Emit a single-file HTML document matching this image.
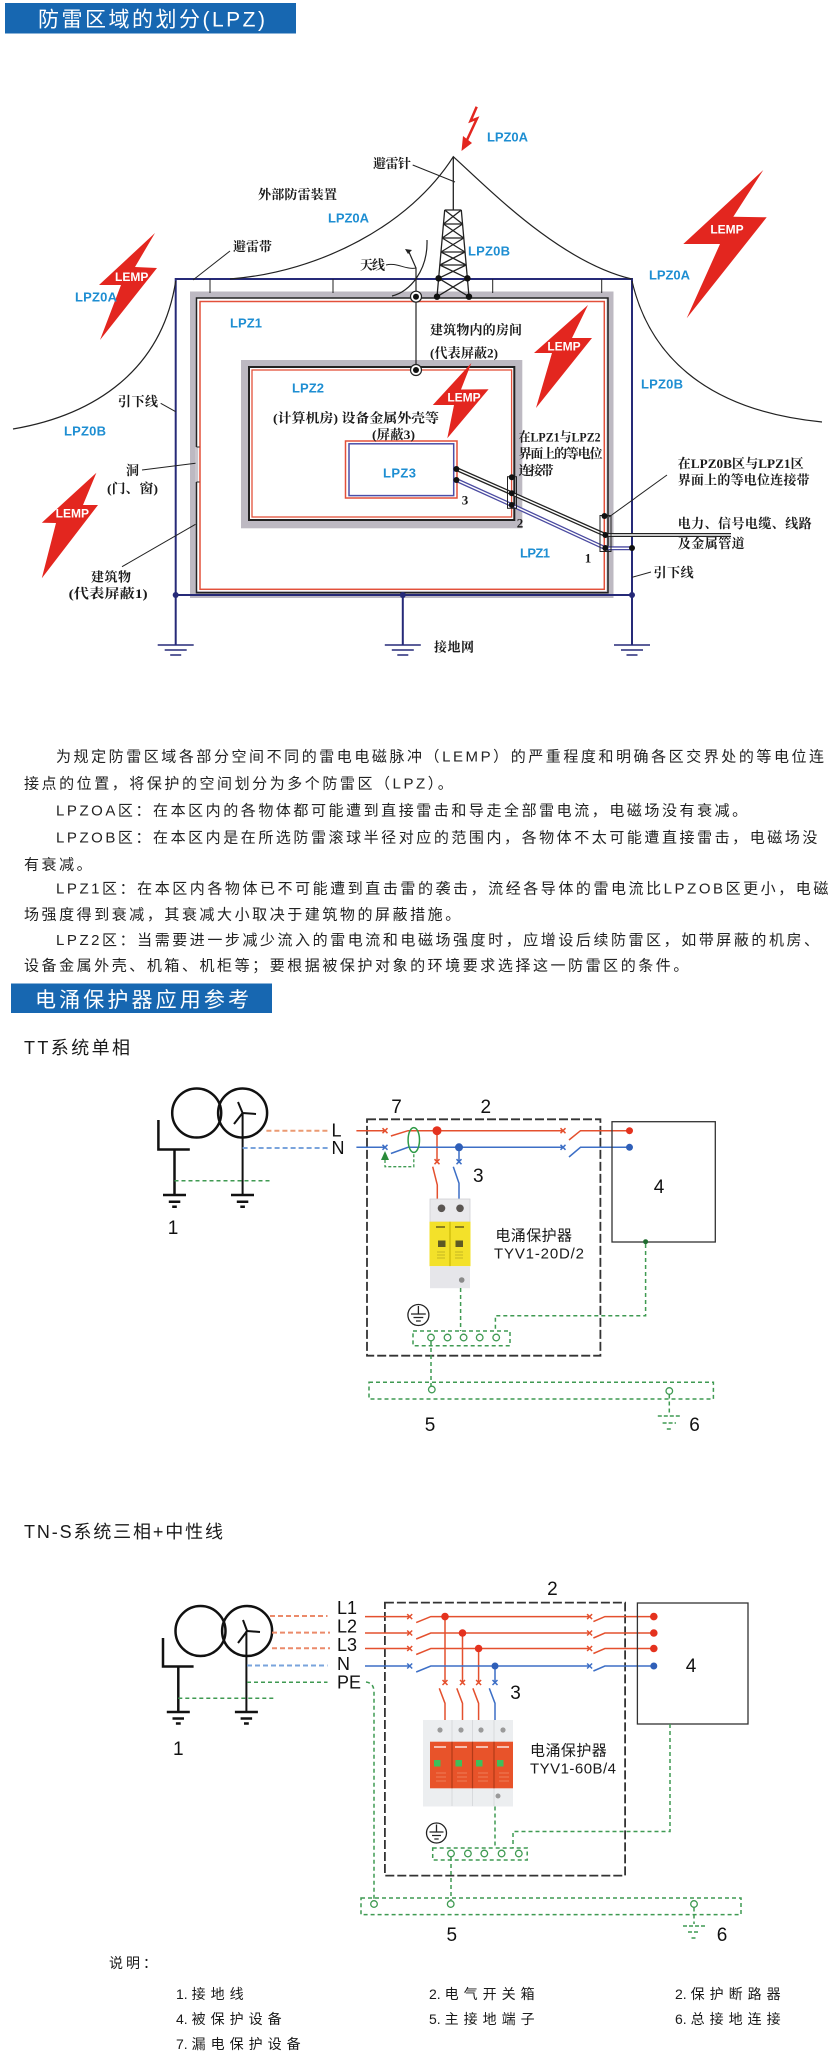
<!DOCTYPE html>
<html><head><meta charset="utf-8">
<style>
html,body{margin:0;padding:0;background:#fff;}
svg{display:block;}
.s{font-family:'Liberation Sans','Noto Sans CJK SC',sans-serif;}
.f{font-family:'Liberation Serif','Noto Serif CJK SC',serif;font-weight:bold;font-size:13px;fill:#1a1a1a;}
.lp{font-family:'Liberation Sans',sans-serif;font-weight:bold;font-size:13px;fill:#1e8ed2;}
.le{font-family:'Liberation Sans',sans-serif;font-weight:bold;font-size:12px;fill:#fff;text-anchor:middle;}
.p{font-family:'Liberation Sans','Noto Sans CJK SC',sans-serif;font-size:15px;fill:#222;letter-spacing:2.55px;}
.n{font-family:'Liberation Sans',sans-serif;font-size:19px;fill:#111;text-anchor:middle;}
.lb{font-family:'Liberation Sans',sans-serif;font-size:18px;fill:#111;}
.g{fill:none;stroke:#3f9a52;stroke-width:1.5;stroke-dasharray:4 3;}
.gc{fill:#fff;stroke:#3f9a52;stroke-width:1.3;}
.lg{font-family:'Liberation Sans','Noto Sans CJK SC',sans-serif;font-size:14px;fill:#1a1a1a;}
.lg .c{letter-spacing:5px;}
</style></head>
<body>
<svg xmlns="http://www.w3.org/2000/svg" width="840" height="2062" viewBox="0 0 840 2062">

<!-- Header 1 -->
<rect x="5" y="3" width="291" height="30.5" fill="#1767b1"/>
<text class="s" x="38" y="26.3" font-size="21" fill="#fff" textLength="227" lengthAdjust="spacing">防雷区域的划分(LPZ)</text>

<!-- ============ Diagram 1 ============ -->
<rect x="193.5" y="295" width="416.5" height="299.5" fill="none" stroke="#bdb9c2" stroke-width="7"/>
<rect x="196.5" y="298" width="411.5" height="294.7" fill="none" stroke="#222" stroke-width="1.5"/>
<rect x="200" y="301.5" width="404.3" height="287.8" fill="none" stroke="#e3503a" stroke-width="1.5"/>
<rect x="195" y="447" width="3.2" height="35" fill="#c9c5cc"/>
<path d="M196.5 447 h3 M196.5 482 h3" stroke="#222" stroke-width="1"/>

<rect x="245" y="364" width="273.3" height="160.3" fill="none" stroke="#bdb9c2" stroke-width="8"/>
<rect x="249" y="367" width="265.3" height="153" fill="none" stroke="#222" stroke-width="2"/>
<rect x="252" y="370" width="259.6" height="147" fill="none" stroke="#e3503a" stroke-width="1.3"/>

<rect x="345.5" y="441" width="111.5" height="57" fill="none" stroke="#e3503a" stroke-width="1.5"/>
<rect x="349" y="443.8" width="104.7" height="51.8" fill="none" stroke="#4a4fa8" stroke-width="1.5"/>

<path d="M175.7 645 V279 H632 V645" fill="none" stroke="#262a78" stroke-width="2"/>
<path d="M175.7 595 H632 M402.8 595 V645" stroke="#262a78" stroke-width="2" fill="none"/>
<circle cx="175.7" cy="595" r="3" fill="#262a78"/>
<circle cx="402.8" cy="595" r="3" fill="#262a78"/>
<circle cx="632" cy="595" r="3" fill="#262a78"/>
<path d="M157.7 645 h36 M164.7 650 h22 M170.2 655 h11 M384.8 645 h36 M391.8 650 h22 M397.3 655 h11 M614 645 h36 M621 650 h22 M626.5 655 h11" stroke="#262a78" stroke-width="1.5"/>

<path d="M210 279V293 M333 279V293 M492.7 279V293 M601.7 279V293" stroke="#222" stroke-width="1"/>

<path d="M230 279 C320 272 410 225 453.3 156.7 C490 190 560 262 631.7 279" fill="none" stroke="#222" stroke-width="1.2"/>
<path d="M175.7 281 C162 370 95 415 13 429" fill="none" stroke="#222" stroke-width="1.2"/>
<path d="M632 281 C648 350 700 410 822 422" fill="none" stroke="#222" stroke-width="1.2"/>

<path d="M453.3 156.7 V210" stroke="#222" stroke-width="1.3"/>
<g stroke="#222" stroke-width="1.3" fill="none">
<path d="M444.7 210 L437 296.7 M461.3 210 L469 296.7"/>
<path d="M444.7 210 H461.3 M443.46 224 H462.54 M442.21 238 H463.79 M440.97 252 H465.03 M439.82 265 H466.18"/>
<path d="M444.7 210 L462.54 224 M461.3 210 L443.46 224"/>
<path d="M443.46 224 L463.79 238 M462.54 224 L442.21 238"/>
<path d="M442.21 238 L465.03 252 M463.79 238 L440.97 252"/>
<path d="M440.97 252 L466.18 265 M465.03 252 L439.82 265"/>
<path d="M439.82 265 L467.37 278.3 M466.18 265 L438.63 278.3"/>
<path d="M438.63 278.3 L469 296.7 M467.37 278.3 L437 296.7"/>
</g>
<circle cx="438.6" cy="278.3" r="3.2" fill="#111"/>
<circle cx="467.4" cy="278.3" r="3.2" fill="#111"/>
<circle cx="437" cy="296.7" r="3.2" fill="#111"/>
<circle cx="469" cy="296.7" r="3.2" fill="#111"/>

<path d="M408.5 251 L416 268 V296" fill="none" stroke="#222" stroke-width="1.2"/>
<path d="M405 249 L412 250 L408 254 Z" fill="#222"/>
<path d="M427 240 C428 270 410 292 392 296" fill="none" stroke="#222" stroke-width="1.2"/>
<path d="M416 296.7 V370" stroke="#222" stroke-width="1.2"/>
<circle cx="416" cy="296.7" r="5.5" fill="#fff" stroke="#222" stroke-width="1.2"/>
<circle cx="416" cy="296.7" r="3" fill="#111"/>
<circle cx="416" cy="370" r="5.5" fill="#fff" stroke="#222" stroke-width="1.2"/>
<circle cx="416" cy="370" r="3" fill="#111"/>

<path d="M456.4 469 L511.6 493.3 L605.4 535 H731" fill="none" stroke="#222" stroke-width="4"/>
<path d="M456.4 469 L511.6 493.3 L605.4 535 H731" fill="none" stroke="#fff" stroke-width="1.4"/>
<path d="M456.4 480 L511.6 505 L605.4 548.3 H632" fill="none" stroke="#4a4aa0" stroke-width="4"/>
<path d="M456.4 480 L511.6 505 L605.4 548.3 H632" fill="none" stroke="#fff" stroke-width="1.4"/>
<circle cx="456.4" cy="469" r="3" fill="#111"/>
<circle cx="456.4" cy="480" r="3" fill="#111"/>
<rect x="507.5" y="476.7" width="9" height="31.6" fill="none" stroke="#222" stroke-width="1"/>
<circle cx="511.8" cy="477.3" r="3" fill="#111"/>
<circle cx="511.8" cy="493.3" r="3" fill="#111"/>
<circle cx="511.8" cy="505" r="3" fill="#111"/>
<rect x="600" y="515.5" width="11" height="36" fill="none" stroke="#222" stroke-width="1"/>
<circle cx="604.5" cy="516" r="3" fill="#111"/>
<circle cx="605.4" cy="535" r="3" fill="#111"/>
<circle cx="605.4" cy="548" r="3" fill="#111"/>
<circle cx="632" cy="548" r="3" fill="#111"/>

<g stroke="#222" stroke-width="1" fill="none">
<path d="M412.7 165 L455 182"/>
<path d="M230 251 L193 280"/>
<path d="M386 265 C396 262 406 270 416 268"/>
<path d="M160.7 403.3 L175.7 411.7"/>
<path d="M142 470 L195.5 463.3"/>
<path d="M122 566.7 L195.5 524.3"/>
<path d="M667 475 L609 517"/>
<path d="M632 577.3 L651 572"/>
</g>

<g fill="#e3261f">
<polygon points="155,233 135,267 157,268 100,340 121,285 99,285"/>
<polygon points="763.3,170 733.3,216.7 766.7,217.3 686.7,318.3 720,244 683.3,244"/>
<polygon points="588,305 572,338 592,338 536,408 552,353 534,353"/>
<polygon points="471.4,363 461,389.5 488.6,389.3 447.3,438.3 454,405 432.8,405"/>
<polygon points="96.4,472.7 83,505 98,505 41.8,578.3 56,523 41.8,522.7"/>
<polygon points="461.5,151 463,136 472,143"/>
</g>
<path d="M476.7 106.7 L470.5 121 L477 118.5 L467 140" fill="none" stroke="#e3261f" stroke-width="2.5"/>
<text class="le" x="131.7" y="281">LEMP</text>
<text class="le" x="727" y="233.5" font-size="13">LEMP</text>
<text class="le" x="564" y="350.5">LEMP</text>
<text class="le" x="464" y="401.5">LEMP</text>
<text class="le" x="72.3" y="517.5">LEMP</text>

<text class="lp" x="487" y="141.7" textLength="41">LPZ0A</text>
<text class="lp" x="328" y="222.7" textLength="41">LPZ0A</text>
<text class="lp" x="468" y="255.7" textLength="42">LPZ0B</text>
<text class="lp" x="75" y="301.7" textLength="42">LPZ0A</text>
<text class="lp" x="649" y="279.7" textLength="41">LPZ0A</text>
<text class="lp" x="230" y="327.7" textLength="32">LPZ1</text>
<text class="lp" x="292" y="392.4" textLength="32">LPZ2</text>
<text class="lp" x="383" y="477.7" textLength="33">LPZ3</text>
<text class="lp" x="64" y="435.7" textLength="42">LPZ0B</text>
<text class="lp" x="641" y="388.7" textLength="42">LPZ0B</text>
<text class="lp" x="520" y="557.7" textLength="30">LPZ1</text>

<text class="f" x="373" y="168" textLength="38">避雷针</text>
<text class="f" x="258" y="199" textLength="79">外部防雷装置</text>
<text class="f" x="233" y="251" textLength="39">避雷带</text>
<text class="f" x="360" y="269.5" textLength="25">天线</text>
<text class="f" x="430" y="334.3" textLength="92">建筑物内的房间</text>
<text class="f" x="430" y="357.7" textLength="68" lengthAdjust="spacingAndGlyphs">(代表屏蔽2)</text>
<text class="f" x="273" y="422.7" textLength="166" lengthAdjust="spacingAndGlyphs">(计算机房) 设备金属外壳等</text>
<text class="f" x="372" y="439" textLength="43" lengthAdjust="spacingAndGlyphs">(屏蔽3)</text>
<text class="f" x="518.6" y="441.5" textLength="82" lengthAdjust="spacingAndGlyphs">在LPZ1与LPZ2</text>
<text class="f" x="518.6" y="458" textLength="84">界面上的等电位</text>
<text class="f" x="518.6" y="475" textLength="35">连接带</text>
<text class="f" x="677.7" y="468" textLength="126" lengthAdjust="spacingAndGlyphs">在LPZ0B区与LPZ1区</text>
<text class="f" x="677.7" y="484.3" textLength="132">界面上的等电位连接带</text>
<text class="f" x="677.7" y="528" textLength="134">电力、信号电缆、线路</text>
<text class="f" x="677.7" y="548" textLength="67">及金属管道</text>
<text class="f" x="653.6" y="577" textLength="40">引下线</text>
<text class="f" x="118" y="406" textLength="40">引下线</text>
<text class="f" x="126" y="475">洞</text>
<text class="f" x="107" y="493" textLength="51" lengthAdjust="spacingAndGlyphs">(门、窗)</text>
<text class="f" x="91" y="581.7" textLength="40">建筑物</text>
<text class="f" x="68.6" y="598" textLength="79" lengthAdjust="spacingAndGlyphs">(代表屏蔽1)</text>
<text class="f" x="434" y="651.7" textLength="40">接地网</text>
<text class="f" x="465" y="504.5" font-weight="normal" text-anchor="middle">3</text>
<text class="f" x="520" y="527.5" font-weight="normal" text-anchor="middle">2</text>
<text class="f" x="588" y="562.5" font-weight="normal" text-anchor="middle">1</text>

<!-- ============ Paragraph ============ -->
<text class="p" x="56" y="761.7">为规定防雷区域各部分空间不同的雷电电磁脉冲（LEMP）的严重程度和明确各区交界处的等电位连</text>
<text class="p" x="24" y="788.7">接点的位置，将保护的空间划分为多个防雷区（LPZ）。</text>
<text class="p" x="56" y="815.7">LPZOA区：在本区内的各物体都可能遭到直接雷击和导走全部雷电流，电磁场没有衰减。</text>
<text class="p" x="56" y="842.7">LPZOB区：在本区内是在所选防雷滚球半径对应的范围内，各物体不太可能遭直接雷击，电磁场没</text>
<text class="p" x="24" y="869.3">有衰减。</text>
<text class="p" x="56" y="893.7">LPZ1区：在本区内各物体已不可能遭到直击雷的袭击，流经各导体的雷电流比LPZOB区更小，电磁</text>
<text class="p" x="24" y="919.7">场强度得到衰减，其衰减大小取决于建筑物的屏蔽措施。</text>
<text class="p" x="56" y="945.2">LPZ2区：当需要进一步减少流入的雷电流和电磁场强度时，应增设后续防雷区，如带屏蔽的机房、</text>
<text class="p" x="24" y="970.7">设备金属外壳、机箱、机柜等；要根据被保护对象的环境要求选择这一防雷区的条件。</text>

<!-- Header 2 -->
<rect x="11" y="983.5" width="261" height="29.5" fill="#1767b1"/>
<text class="s" x="35" y="1007" font-size="21" fill="#fff" textLength="214" lengthAdjust="spacing">电涌保护器应用参考</text>

<text class="s" x="24" y="1054" font-size="18" fill="#1a1a1a" textLength="106" lengthAdjust="spacing">TT系统单相</text>

<!-- ============ TT diagram ============ -->
<circle cx="196.7" cy="1113" r="24.5" fill="none" stroke="#111" stroke-width="2.5"/>
<circle cx="242.6" cy="1113" r="24.5" fill="none" stroke="#111" stroke-width="2.5"/>
<path d="M242.6 1113 L238 1102 M242.6 1113 L256 1114 M242.6 1113 L234 1124 M242.6 1113 V1195" stroke="#111" stroke-width="2" fill="none"/>
<path d="M158.4 1120 V1149.5 H189.8 M174.5 1149.5 V1195" stroke="#111" stroke-width="2.5" fill="none"/>
<path d="M163 1195 H186 M168.8 1201.7 H180.3 M172.2 1206.7 H176.8 M231 1195 H254 M236.8 1201.7 H248.3 M240.3 1206.7 H244.9" stroke="#111" stroke-width="2.5"/>
<path class="g" d="M174.5 1180.7 H270"/>
<text class="n" x="173" y="1234" font-size="18">1</text>

<path d="M266.4 1130.7 H327.7" stroke="#eb9a72" stroke-width="2" stroke-dasharray="5 3"/>
<path d="M242.6 1148 H327.7" stroke="#7aa4dc" stroke-width="2" stroke-dasharray="5 3"/>
<text class="lb" x="331.5" y="1136.5">L</text>
<text class="lb" x="331.5" y="1154">N</text>

<rect x="367" y="1119.3" width="233.4" height="236.4" fill="none" stroke="#333" stroke-width="1.8" stroke-dasharray="9 3"/>
<text class="n" x="396.6" y="1113">7</text>
<text class="n" x="485.8" y="1113">2</text>

<g fill="none" stroke="#e4502e" stroke-width="1.5">
<path d="M356.4 1130.7 H385 M390.9 1136 L408 1130.7 H563 M569 1140 L580.5 1130.7 H629.5"/>
<path d="M437 1130.7 V1161.7 M432.7 1166.7 L437.3 1185 V1200"/>
<path d="M382.5 1128.2 l5 5 m0 -5 l-5 5 M560.5 1128.2 l5 5 m0 -5 l-5 5 M434.5 1159.2 l5 5 m0 -5 l-5 5"/>
</g>
<g fill="none" stroke="#3d6fc6" stroke-width="1.5">
<path d="M356.4 1147.3 H385 M390.9 1153.5 L408 1147.3 H563 M569 1157 L580.5 1147.3 H629.5"/>
<path d="M459 1147.3 V1161.7 M453.3 1166.7 L459 1183.3 V1200"/>
<path d="M382.5 1144.8 l5 5 m0 -5 l-5 5 M560.5 1144.8 l5 5 m0 -5 l-5 5 M456.5 1159.2 l5 5 m0 -5 l-5 5"/>
</g>
<circle cx="437" cy="1130.7" r="4.5" fill="#e4321e"/>
<circle cx="629.5" cy="1130.7" r="3.5" fill="#e4321e"/>
<circle cx="459" cy="1147.3" r="4" fill="#2f5fb8"/>
<circle cx="629.5" cy="1147.3" r="3.5" fill="#2f5fb8"/>
<ellipse cx="413.8" cy="1140" rx="5.7" ry="12.4" fill="none" stroke="#2e9a46" stroke-width="1.5"/>
<polygon points="385,1151 381,1160 389,1160" fill="#2a8a3a"/>
<path d="M385 1160 V1166.7 H413.8 V1152.4" fill="none" stroke="#3f9a52" stroke-width="1.3" stroke-dasharray="3 2"/>
<text class="n" x="478.3" y="1182">3</text>

<rect x="430" y="1199" width="40" height="23" fill="#e9e9ec" stroke="#d0d0d4" stroke-width="0.8"/>
<circle cx="441.5" cy="1208.3" r="3.8" fill="#5a5552"/>
<circle cx="460" cy="1208.3" r="3.8" fill="#5a5552"/>
<rect x="429.5" y="1221.7" width="41" height="44.5" fill="#f3e12a"/>
<path d="M450 1221.7 V1266.2" stroke="#c2b000" stroke-width="1"/>
<rect x="436" y="1226" width="9" height="2" fill="#8a7f20"/>
<rect x="455" y="1226" width="9" height="2" fill="#8a7f20"/>
<rect x="438" y="1240.5" width="7.5" height="6.5" fill="#5e5a24"/>
<rect x="455.5" y="1240.5" width="7.5" height="6.5" fill="#5e5a24"/>
<path d="M437 1252 h8 M437 1255 h8 M437 1258 h8 M455 1252 h8 M455 1255 h8 M455 1258 h8" stroke="#b8a820" stroke-width="0.8"/>
<rect x="430" y="1266.2" width="40" height="22" fill="#e6e6ea"/>
<circle cx="461.7" cy="1280" r="2.8" fill="#8a8a8a"/>

<text class="s" x="495.4" y="1240.5" font-size="15" fill="#1a1a1a" textLength="76.6" lengthAdjust="spacing">电涌保护器</text>
<text class="s" x="494" y="1258.5" font-size="15" fill="#1a1a1a" textLength="90" lengthAdjust="spacing">TYV1-20D/2</text>

<rect x="612" y="1121.7" width="103.3" height="120.3" fill="none" stroke="#333" stroke-width="1.3"/>
<text class="n" x="659" y="1193" font-size="20">4</text>
<circle cx="645.6" cy="1241.7" r="2.5" fill="#1f6b2f"/>
<path class="g" d="M645.6 1244 V1315.7 H495.4 V1331"/>
<path class="g" d="M460.6 1288 V1331"/>
<circle cx="418.4" cy="1315" r="10.5" fill="none" stroke="#222" stroke-width="1.3"/>
<path d="M418.4 1306 V1314 M411 1314 H425.8 M413.5 1317.5 H423.3 M416 1321 H420.8" stroke="#222" stroke-width="1.3"/>
<rect class="g" x="413" y="1331" width="97" height="14.7"/>
<path class="g" d="M431 1341 V1386"/>
<circle class="gc" cx="431" cy="1337.5" r="3.3"/>
<circle class="gc" cx="447.5" cy="1337.5" r="3.3"/>
<circle class="gc" cx="463.6" cy="1337.5" r="3.3"/>
<circle class="gc" cx="479.7" cy="1337.5" r="3.3"/>
<circle class="gc" cx="496.2" cy="1337.5" r="3.3"/>
<rect class="g" x="369" y="1382.3" width="344.4" height="16.7"/>
<circle class="gc" cx="431.8" cy="1389.5" r="3.3"/>
<circle class="gc" cx="669.3" cy="1391" r="3.3"/>
<path class="g" d="M669.3 1394.5 V1414"/>
<path d="M657.8 1416 H680.8 M662.6 1423 H676 M666.8 1429 H671.8" stroke="#3f9a52" stroke-width="1.5" stroke-dasharray="4 2"/>
<text class="n" x="430" y="1431">5</text>
<text class="n" x="694.6" y="1431">6</text>

<!-- ============ TN-S diagram ============ -->
<text class="s" x="24" y="1538" font-size="18" fill="#1a1a1a" textLength="199" lengthAdjust="spacing">TN-S系统三相+中性线</text>

<circle cx="200.5" cy="1631" r="25" fill="none" stroke="#111" stroke-width="2.5"/>
<circle cx="247.1" cy="1631" r="25" fill="none" stroke="#111" stroke-width="2.5"/>
<path d="M247.1 1631 L243 1620 M247.1 1631 L260 1632 M247.1 1631 L238 1643 M246.4 1631 V1711.5" stroke="#111" stroke-width="2" fill="none"/>
<path d="M163 1638 V1666.5 H193.6 M178.3 1666.5 V1711.5" stroke="#111" stroke-width="2.5" fill="none"/>
<path d="M166.8 1712 H189.8 M172.5 1718.5 H184 M175.9 1723.5 H180.7 M234.9 1712 H257.9 M240.6 1718.5 H252.1 M244 1723.5 H248.8" stroke="#111" stroke-width="2.5"/>
<path class="g" d="M178.3 1698.2 H275.8"/>
<text class="n" x="178.3" y="1755" font-size="18">1</text>

<path d="M270 1616 H327.5 M272 1632.6 H330 M272 1648.2 H330" stroke="#eb8a6a" stroke-width="2" stroke-dasharray="5 3"/>
<path d="M247 1665.5 H327.5" stroke="#7aa4dc" stroke-width="2" stroke-dasharray="5 3"/>
<path class="g" d="M247 1682.2 H327.5"/>
<text class="lb" x="337" y="1614">L1</text>
<text class="lb" x="337" y="1632.5">L2</text>
<text class="lb" x="337" y="1651">L3</text>
<text class="lb" x="337" y="1670">N</text>
<text class="lb" x="337" y="1688.5">PE</text>
<path class="g" d="M366 1682 Q374 1683 374 1692 V1900"/>

<rect x="384.9" y="1602.6" width="240.2" height="273" fill="none" stroke="#333" stroke-width="1.8" stroke-dasharray="9 3"/>
<text class="n" x="552.4" y="1595">2</text>

<g fill="none" stroke="#e4502e" stroke-width="1.5">
<path d="M365 1616.6 H409.7 M416.2 1622.6 L430.8 1616.6 H589.6 M593.4 1621.6 L604.9 1616.6 H653.8"/>
<path d="M365 1633 H409.7 M416.2 1639 L430.8 1633 H589.6 M593.4 1638 L604.9 1633 H653.8"/>
<path d="M365 1648.5 H409.7 M416.2 1654.5 L430.8 1648.5 H589.6 M593.4 1653.5 L604.9 1648.5 H653.8"/>
<path d="M445 1616.6 V1682.5 M439.3 1688.3 L445 1703.3 V1720"/>
<path d="M462.5 1633 V1682.5 M456.8 1688.3 L462.5 1703.3 V1720"/>
<path d="M478.6 1648.5 V1682.5 M472.9 1688.3 L478.6 1703.3 V1720"/>
<path d="M407.2 1614.1 l5 5 m0 -5 l-5 5 M587.1 1614.1 l5 5 m0 -5 l-5 5 M407.2 1630.5 l5 5 m0 -5 l-5 5 M587.1 1630.5 l5 5 m0 -5 l-5 5 M407.2 1646 l5 5 m0 -5 l-5 5 M587.1 1646 l5 5 m0 -5 l-5 5 M442.5 1680 l5 5 m0 -5 l-5 5 M460 1680 l5 5 m0 -5 l-5 5 M476.1 1680 l5 5 m0 -5 l-5 5"/>
</g>
<g fill="none" stroke="#3d6fc6" stroke-width="1.5">
<path d="M365 1666 H409.7 M416.2 1672 L430.8 1666 H589.6 M593.4 1671 L604.9 1666 H653.8"/>
<path d="M495 1666 V1682.5 M489.3 1688.3 L495 1703.3 V1720"/>
<path d="M407.2 1663.5 l5 5 m0 -5 l-5 5 M587.1 1663.5 l5 5 m0 -5 l-5 5 M492.5 1680 l5 5 m0 -5 l-5 5"/>
</g>
<circle cx="445" cy="1616.6" r="3.8" fill="#e4321e"/>
<circle cx="462.5" cy="1633" r="3.8" fill="#e4321e"/>
<circle cx="478.6" cy="1648.5" r="3.8" fill="#e4321e"/>
<circle cx="495" cy="1666" r="3.5" fill="#2f5fb8"/>
<circle cx="653.8" cy="1616.6" r="3.8" fill="#e4321e"/>
<circle cx="653.8" cy="1633" r="3.8" fill="#e4321e"/>
<circle cx="653.8" cy="1648.5" r="3.8" fill="#e4321e"/>
<circle cx="653.8" cy="1666" r="3.5" fill="#2f5fb8"/>
<text class="n" x="515.5" y="1699">3</text>

<rect x="423" y="1720" width="90" height="86.5" fill="#eceef0"/>
<path d="M452 1720 V1806 M472.5 1720 V1806 M494 1720 V1806" stroke="#d8dadd" stroke-width="1"/>
<circle cx="440" cy="1730" r="2.6" fill="#9a9a9a"/>
<circle cx="461" cy="1730" r="2.6" fill="#9a9a9a"/>
<circle cx="481" cy="1730" r="2.6" fill="#9a9a9a"/>
<circle cx="503" cy="1730" r="2.6" fill="#9a9a9a"/>
<rect x="430" y="1741.7" width="83" height="46.6" fill="#e8532a"/>
<path d="M452 1741.7 V1788.3 M472.5 1741.7 V1788.3 M494 1741.7 V1788.3" stroke="#b23a18" stroke-width="1.2"/>
<path d="M434 1747 h12 M455 1747 h12 M476 1747 h12 M497 1747 h12" stroke="#fff" stroke-width="1.2"/>
<rect x="434" y="1760" width="6.5" height="6.5" fill="#3fbf5a"/>
<rect x="455.5" y="1760" width="6.5" height="6.5" fill="#3fbf5a"/>
<rect x="476" y="1760" width="6.5" height="6.5" fill="#3fbf5a"/>
<rect x="497" y="1760" width="6.5" height="6.5" fill="#3fbf5a"/>
<path d="M436 1773 h10 M436 1777 h10 M436 1781 h10 M457 1773 h10 M457 1777 h10 M457 1781 h10 M478 1773 h10 M478 1777 h10 M478 1781 h10 M499 1773 h10 M499 1777 h10 M499 1781 h10" stroke="#f08a68" stroke-width="0.8"/>
<circle cx="498" cy="1796" r="2.5" fill="#9a9a9a"/>

<text class="s" x="530" y="1755.5" font-size="15" fill="#1a1a1a" textLength="76.8" lengthAdjust="spacing">电涌保护器</text>
<text class="s" x="530" y="1773.5" font-size="15" fill="#1a1a1a" textLength="86" lengthAdjust="spacing">TYV1-60B/4</text>

<rect x="637.4" y="1603" width="110.6" height="121" fill="none" stroke="#333" stroke-width="1.3"/>
<text class="n" x="691" y="1672" font-size="20">4</text>
<path class="g" d="M670 1724 V1831.5 H513 V1848"/>
<path class="g" d="M495 1806.5 V1848"/>
<circle cx="436.5" cy="1833" r="10" fill="none" stroke="#222" stroke-width="1.3"/>
<path d="M436.5 1824.5 V1832 M429.5 1832 H443.5 M432 1835.5 H441 M434.3 1839 H438.7" stroke="#222" stroke-width="1.3"/>
<rect class="g" x="432.7" y="1848" width="94.5" height="12"/>
<path class="g" d="M451 1857 V1900"/>
<circle class="gc" cx="451" cy="1853.5" r="3.3"/>
<circle class="gc" cx="467.9" cy="1853.5" r="3.3"/>
<circle class="gc" cx="484.3" cy="1853.5" r="3.3"/>
<circle class="gc" cx="501.6" cy="1853.5" r="3.3"/>
<circle class="gc" cx="518.8" cy="1853.5" r="3.3"/>
<rect class="g" x="361" y="1898" width="380" height="16.6"/>
<circle class="gc" cx="374" cy="1904" r="3.3"/>
<circle class="gc" cx="450.7" cy="1904" r="3.3"/>
<circle class="gc" cx="694" cy="1904" r="3.3"/>
<path class="g" d="M694 1907.5 V1924"/>
<path d="M683 1926 H705 M688 1932 H700 M691.5 1938 H696.5" stroke="#3f9a52" stroke-width="1.5" stroke-dasharray="4 2"/>
<text class="n" x="451.8" y="1941">5</text>
<text class="n" x="722" y="1941">6</text>

<!-- Legend -->
<text class="lg" x="109" y="1968" style="letter-spacing:3px">说明：</text>
<text class="lg" x="176" y="1999">1. <tspan class="c">接地线</tspan></text>
<text class="lg" x="429" y="1999">2. <tspan class="c">电气开关箱</tspan></text>
<text class="lg" x="675" y="1999">2. <tspan class="c">保护断路器</tspan></text>
<text class="lg" x="176" y="2024">4. <tspan class="c">被保护设备</tspan></text>
<text class="lg" x="429" y="2024">5. <tspan class="c">主接地端子</tspan></text>
<text class="lg" x="675" y="2024">6. <tspan class="c">总接地连接</tspan></text>
<text class="lg" x="176" y="2049">7. <tspan class="c">漏电保护设备</tspan></text>
</svg>
</body></html>
